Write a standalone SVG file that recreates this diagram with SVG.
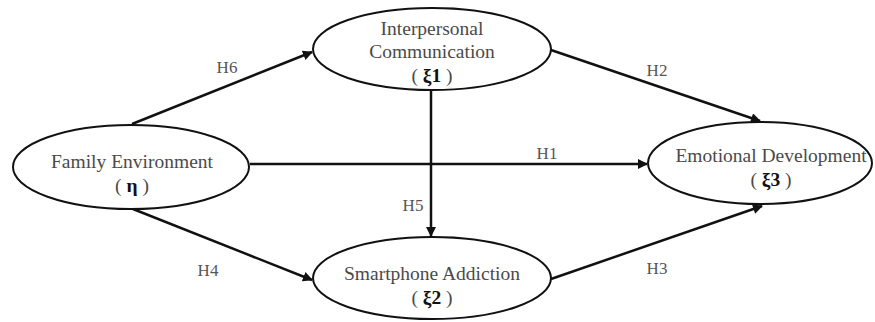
<svg xmlns="http://www.w3.org/2000/svg" width="875" height="322" viewBox="0 0 875 322">
<style>
.node ellipse{fill:#fff;stroke:#111;stroke-width:2}
.t{font-family:"Liberation Serif","Times New Roman",serif;font-size:19.5px;fill:#4a4a4a;text-anchor:middle}
.b{font-weight:bold;fill:#111}
.lbl{font-family:"Liberation Serif","Times New Roman",serif;font-size:17px;fill:#555;text-anchor:middle}
.edge{stroke:#111;stroke-width:2.5;fill:none;marker-end:url(#ah)}
</style>
<defs>
<marker id="ah" viewBox="0 0 10 10" refX="9" refY="5" markerWidth="4.2" markerHeight="4" orient="auto" markerUnits="strokeWidth">
<path d="M0,0 L10,5 L0,10 z" fill="#111"/>
</marker>
</defs>
<g id="connectors">
<line class="edge" x1="132" y1="124" x2="312" y2="52"/>
<line class="edge" x1="551" y1="50" x2="760" y2="121"/>
<line class="edge" x1="250" y1="164" x2="647" y2="164"/>
<line class="edge" x1="431" y1="91" x2="431" y2="236"/>
<line class="edge" x1="133" y1="209" x2="312" y2="280"/>
<line class="edge" x1="551" y1="279" x2="762" y2="206"/>
<text class="lbl" x="227" y="73">H6</text>
<text class="lbl" x="657" y="76">H2</text>
<text class="lbl" x="547" y="159">H1</text>
<text class="lbl" x="413" y="211">H5</text>
<text class="lbl" x="208" y="276">H4</text>
<text class="lbl" x="657" y="274">H3</text>
</g>
<g id="family" class="node">
<ellipse cx="131" cy="167" rx="118" ry="42"/>
<text class="t" x="132" y="168">Family Environment</text>
<text class="t" x="132" y="192">( <tspan class="b">η</tspan> )</text>
</g>
<g id="interpersonal" class="node">
<ellipse cx="432" cy="49" rx="119" ry="41"/>
<text class="t" x="432" y="35">Interpersonal</text>
<text class="t" x="432" y="58">Communication</text>
<text class="t" x="432" y="82">( <tspan class="b">ξ1</tspan> )</text>
</g>
<g id="smartphone" class="node">
<ellipse cx="432" cy="278" rx="119" ry="41"/>
<text class="t" x="432" y="280">Smartphone Addiction</text>
<text class="t" x="432" y="304">( <tspan class="b">ξ2</tspan> )</text>
</g>
<g id="emotional" class="node">
<ellipse cx="760" cy="163" rx="112" ry="41"/>
<text class="t" x="771" y="162">Emotional Development</text>
<text class="t" x="771" y="186">( <tspan class="b">ξ3</tspan> )</text>
</g>
</svg>
